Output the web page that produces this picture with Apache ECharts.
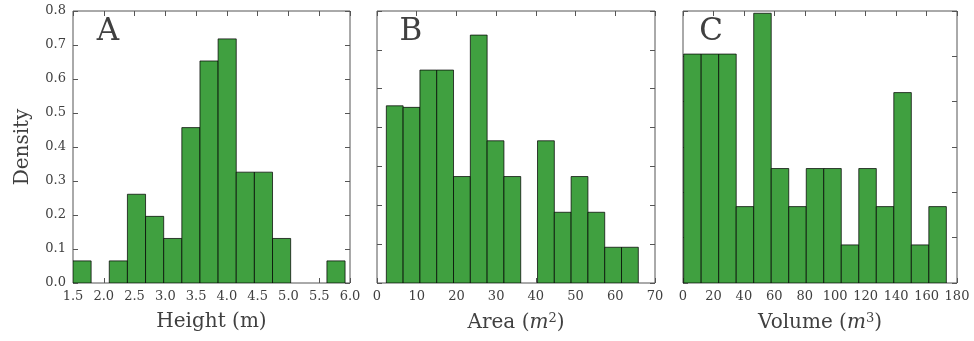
<!DOCTYPE html>
<html>
<head>
<meta charset="utf-8">
<title>Density histograms</title>
<script src="https://cdn.jsdelivr.net/npm/echarts@6/dist/echarts.min.js"></script>
<style>
  html, body { margin: 0; padding: 0; background: #fff; }
  #chart { width: 974px; height: 341px; }
</style>
</head>
<body>
<div id="chart"></div>
<script>
// Histogram ranges (first bin left edge, last bin right edge) and bin counts
const heightRange = [1.5, 5.92];
const areaRange = [2.35, 65.8];
const volumeRange = [0.44, 173.0];
const binCount = 15;

// Density per bin
const heightDensity = [0.065, 0, 0.065, 0.261, 0.196, 0.131, 0.457, 0.653, 0.718, 0.326, 0.326, 0.131, 0, 0, 0.065];
const areaDensity = [0.0228, 0.0226, 0.0274, 0.0274, 0.0137, 0.0319, 0.0183, 0.0137, 0, 0.0183, 0.0091, 0.0137, 0.0091, 0.0046, 0.0046];
const volumeDensity = [0.0101, 0.0101, 0.0101, 0.00337, 0.0119, 0.00505, 0.00337, 0.00505, 0.00505, 0.00168, 0.00505, 0.00337, 0.0084, 0.00168, 0.00337];

// Axis scales
const heightAxis = { min: 1.5, max: 6.0, interval: 0.5 };
const areaAxis = { min: 0, max: 70, interval: 10 };
const volumeAxis = { min: 0, max: 180, interval: 20 };
const densityAxes = [
  { min: 0, max: 0.8, interval: 0.1 },
  { min: 0, max: 0.035, interval: 0.005 },
  { min: 0, max: 0.012, interval: 0.002 }
];

const panelLetters = ['A', 'B', 'C'];

function bins(range, values) {
  const w = (range[1] - range[0]) / binCount;
  return values.map((v, i) => [range[0] + i * w, range[0] + (i + 1) * w, v]);
}

const FONT = 'DejaVu Serif';
const INK = '#404040';
const FRAME = '#555';

const grids = [
  { left: 73, top: 11, width: 277, height: 272 },
  { left: 377, top: 11, width: 278, height: 272 },
  { left: 683, top: 11, width: 274, height: 272 }
].map(g => Object.assign(g, { show: true, borderColor: FRAME, borderWidth: 1, backgroundColor: 'transparent' }));

const xScales = [heightAxis, areaAxis, volumeAxis];
const xNames = [
  { text: 'Height (m)', rich: false },
  { text: '{r|Area (}{i|m}{s|2}{r|)}', rich: true },
  { text: '{r|Volume (}{i|m}{s|3}{r|)}', rich: true }
];

const richStyles = {
  r: { fontFamily: FONT, fontSize: 20, color: INK },
  i: { fontFamily: FONT, fontSize: 20, fontStyle: 'italic', color: INK },
  s: { fontFamily: FONT, fontSize: 13, color: INK, verticalAlign: 'bottom', padding: [0, 0, 9, 0] }
};

const tick = { show: true, inside: true, length: 5, lineStyle: { color: FRAME, width: 1 } };
const noLine = { show: false, onZero: false };

const xAxes = [];
const yAxes = [];
grids.forEach((g, k) => {
  const sc = xScales[k];
  const decimals = k === 0 ? 1 : 0;
  xAxes.push({
    type: 'value', gridIndex: k, position: 'bottom',
    min: sc.min, max: sc.max, interval: sc.interval,
    name: xNames[k].text, nameLocation: 'middle', nameGap: 29,
    nameTextStyle: xNames[k].rich
      ? { rich: richStyles }
      : { fontFamily: FONT, fontSize: 20, color: INK },
    axisLine: noLine,
    axisTick: tick,
    axisLabel: {
      fontFamily: FONT, fontSize: 13, color: INK, margin: 7,
      formatter: v => v.toFixed(decimals)
    },
    splitLine: { show: false }
  });
  xAxes.push({
    type: 'value', gridIndex: k, position: 'top',
    min: sc.min, max: sc.max, interval: sc.interval,
    axisLine: noLine,
    axisTick: tick,
    axisLabel: { show: false },
    splitLine: { show: false }
  });
  const ys = densityAxes[k];
  yAxes.push({
    type: 'value', gridIndex: k, position: 'left',
    min: ys.min, max: ys.max, interval: ys.interval,
    name: k === 0 ? 'Density' : '', nameLocation: 'middle', nameGap: 40,
    nameTextStyle: { fontFamily: FONT, fontSize: 20, color: INK },
    axisLine: noLine,
    axisTick: tick,
    axisLabel: {
      show: k === 0, fontFamily: FONT, fontSize: 13, color: INK, margin: 7,
      formatter: v => v.toFixed(1)
    },
    splitLine: { show: false }
  });
  yAxes.push({
    type: 'value', gridIndex: k, position: 'right',
    min: ys.min, max: ys.max, interval: ys.interval,
    axisLine: noLine,
    axisTick: tick,
    axisLabel: { show: false },
    splitLine: { show: false }
  });
});

function histSeries(k, data) {
  return {
    type: 'custom',
    xAxisIndex: 2 * k,
    yAxisIndex: 2 * k,
    data: data,
    encode: { x: [0, 1], y: 2 },
    clip: true,
    z: 1,
    renderItem: function (params, api) {
      const x0 = api.value(0), x1 = api.value(1), y = api.value(2);
      if (!(y > 0)) return null;
      const p0 = api.coord([x0, y]);
      const p1 = api.coord([x1, 0]);
      return {
        type: 'rect',
        shape: { x: p0[0], y: p0[1], width: p1[0] - p0[0], height: p1[1] - p0[1] },
        style: { fill: '#40a040', stroke: 'rgba(0,0,0,0.72)', lineWidth: 1 }
      };
    }
  };
}

const letterPos = [[108, 32], [411, 32], [711, 32]];

const option = {
  animation: false,
  backgroundColor: '#fff',
  grid: grids,
  xAxis: xAxes,
  yAxis: yAxes,
  series: [
    histSeries(0, bins(heightRange, heightDensity)),
    histSeries(1, bins(areaRange, areaDensity)),
    histSeries(2, bins(volumeRange, volumeDensity))
  ],
  graphic: panelLetters.map((t, k) => ({
    type: 'text', z: 100,
    x: letterPos[k][0], y: letterPos[k][1],
    style: {
      text: t, fontFamily: FONT, fontSize: 31, fill: INK,
      align: 'center', verticalAlign: 'middle'
    }
  }))
};

const chart = echarts.init(document.getElementById('chart'), null, { renderer: 'canvas' });
chart.setOption(option);
</script>
</body>
</html>
